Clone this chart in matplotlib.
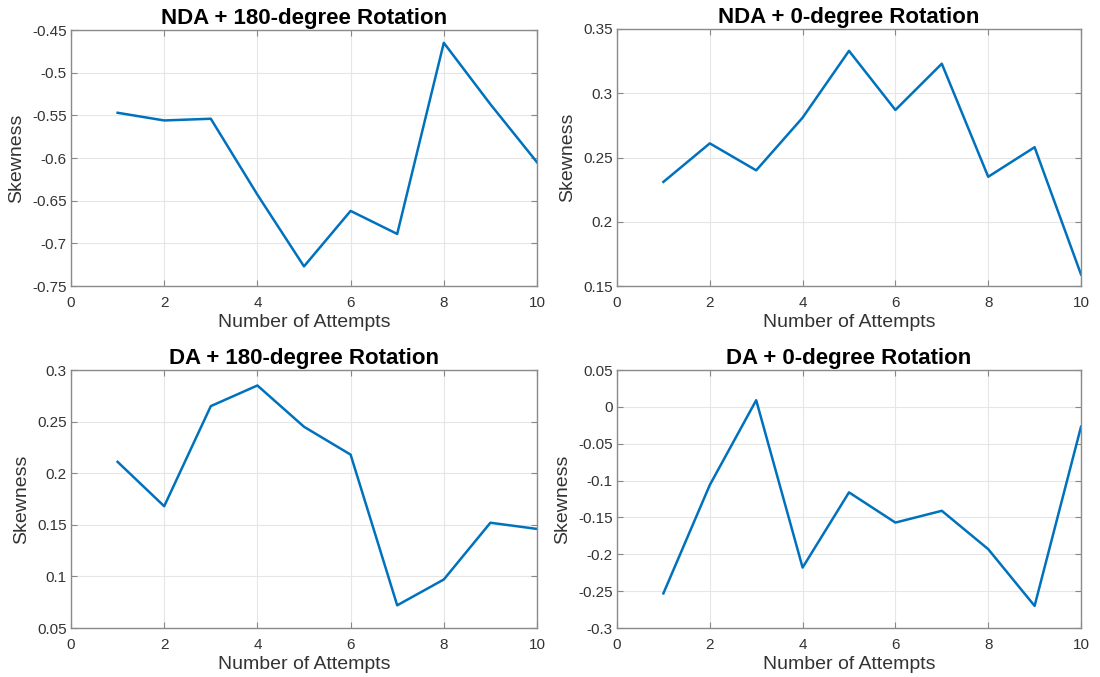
import matplotlib
matplotlib.use("Agg")
import matplotlib.pyplot as plt

attempts = [1, 2, 3, 4, 5, 6, 7, 8, 9, 10]

nda_180 = [-0.547, -0.556, -0.554, -0.643, -0.727, -0.662, -0.689, -0.465, -0.537, -0.605]
nda_0 = [0.231, 0.261, 0.240, 0.281, 0.333, 0.287, 0.323, 0.235, 0.258, 0.159]
da_180 = [0.211, 0.168, 0.265, 0.285, 0.245, 0.218, 0.072, 0.097, 0.152, 0.146]
da_0 = [-0.253, -0.106, 0.009, -0.218, -0.116, -0.157, -0.141, -0.193, -0.270, -0.027]

titles = ["NDA + 180-degree Rotation", "NDA + 0-degree Rotation",
          "DA + 180-degree Rotation", "DA + 0-degree Rotation"]
series = [nda_180, nda_0, da_180, da_0]
ylims = [(-0.75, -0.45), (0.15, 0.35), (0.05, 0.3), (-0.3, 0.05)]
yticks = [[-0.75, -0.7, -0.65, -0.6, -0.55, -0.5, -0.45],
          [0.15, 0.2, 0.25, 0.3, 0.35],
          [0.05, 0.1, 0.15, 0.2, 0.25, 0.3],
          [-0.3, -0.25, -0.2, -0.15, -0.1, -0.05, 0, 0.05]]
ylabels = [["-0.75", "-0.7", "-0.65", "-0.6", "-0.55", "-0.5", "-0.45"],
           ["0.15", "0.2", "0.25", "0.3", "0.35"],
           ["0.05", "0.1", "0.15", "0.2", "0.25", "0.3"],
           ["-0.3", "-0.25", "-0.2", "-0.15", "-0.1", "-0.05", "0", "0.05"]]

# axes boxes in figure pixels: left, top, right, bottom
boxes = [(71, 30, 537, 286), (617, 29, 1081, 286),
         (71, 370, 537, 628), (617, 370, 1081, 628)]

plt.rcParams['font.family'] = ['Liberation Sans', 'DejaVu Sans']

W, H = 1100, 677
fig = plt.figure(figsize=(W / 100, H / 100), dpi=100)

for i in range(4):
    l, t, r, b = boxes[i]
    ax = fig.add_axes([l / W, 1 - b / H, (r - l) / W, (b - t) / H])
    ax.plot(attempts, series[i], color='#0072BD', linewidth=1.8)
    ax.set_xlim(0, 10)
    ax.set_ylim(*ylims[i])
    ax.set_xticks([0, 2, 4, 6, 8, 10])
    ax.set_yticks(yticks[i])
    ax.set_yticklabels(ylabels[i])
    ax.grid(True, color='#e6e6e6', linewidth=0.8)
    ax.set_axisbelow(True)
    ax.tick_params(direction='in', length=4, color='#888888', labelcolor='#333333',
                   labelsize=11, top=True, right=True, labeltop=False, labelright=False)
    ax.tick_params(axis='x', pad=7)
    ax.tick_params(axis='y', pad=3)
    for s in ax.spines.values():
        s.set_color('#8a8a8a')
        s.set_linewidth(1.0)
    ax.set_title(titles[i], fontsize=16, fontweight='bold', pad=4)
    ax.set_xlabel('Number of Attempts', fontsize=14, color='#333333', labelpad=3)
    ax.set_ylabel('Skewness', fontsize=14, color='#333333', labelpad=5)

fig.savefig('out.png', dpi=100)
